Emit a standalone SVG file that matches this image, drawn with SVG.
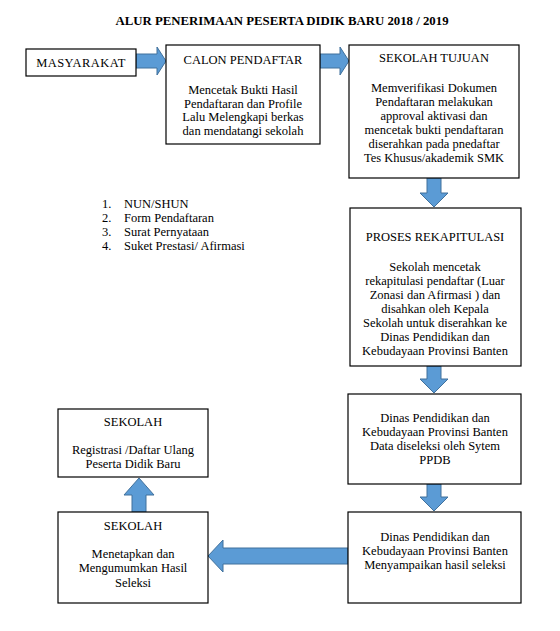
<svg xmlns="http://www.w3.org/2000/svg" width="560" height="631" viewBox="0 0 560 631">
<style>
text{font-family:"Liberation Serif","Times New Roman",serif;font-size:12.5px;fill:#000}
.c{text-anchor:middle}
.t{font-weight:bold;font-size:12.8px}
.box{fill:#fff;stroke:#000;stroke-width:1.2}
.arr{fill:#5b9bd5;stroke:#41719c;stroke-width:1}
</style>
<rect width="560" height="631" fill="#fff"/>
<text class="c t" x="282" y="25">ALUR PENERIMAAN PESERTA DIDIK BARU 2018 / 2019</text>

<g id="connectors">
<path class="arr" d="M136,54 H157 V47 L166,61 L157,75 V68 H136 Z"/>
<path class="arr" d="M320,54 H340 V47 L349,61 L340,75 V68 H320 Z"/>
<path class="arr" d="M427,178 V193 H420 L434,207 L448,193 H441 V178 Z"/>
<path class="arr" d="M427,366 V379 H420 L434,393 L448,379 H441 V366 Z"/>
<path class="arr" d="M427,484 V497 H420 L434,511 L448,497 H441 V484 Z"/>
<path class="arr" d="M348,548 H223 V540 L208,556 L223,572 V564 H348 Z"/>
<path class="arr" d="M132,512 V495 H124 L139,478 L154,495 H146 V512 Z"/>
</g>

<g id="masyarakat">
<rect class="box" x="26" y="49" width="110" height="27"/>
<text class="c" x="81" y="67" letter-spacing="0.4">MASYARAKAT</text>
</g>

<g id="calon">
<rect class="box" x="166" y="45" width="154" height="99"/>
<text class="c" x="243" y="64">CALON PENDAFTAR</text>
<text class="c" x="243" y="94">Mencetak Bukti Hasil</text>
<text class="c" x="243" y="108">Pendaftaran dan Profile</text>
<text class="c" x="243" y="121">Lalu Melengkapi berkas</text>
<text class="c" x="243" y="135">dan mendatangi sekolah</text>
</g>

<g id="sekolah-tujuan">
<rect class="box" x="349" y="45" width="170" height="133"/>
<text class="c" x="434" y="62">SEKOLAH TUJUAN</text>
<text class="c" x="434" y="92">Memverifikasi Dokumen</text>
<text class="c" x="434" y="106">Pendaftaran melakukan</text>
<text class="c" x="434" y="120">approval aktivasi dan</text>
<text class="c" x="434" y="134">mencetak bukti pendaftaran</text>
<text class="c" x="434" y="148">diserahkan pada pnedaftar</text>
<text class="c" x="434" y="162">Tes Khusus/akademik SMK</text>
</g>

<g id="list">
<text x="102" y="208">1.</text><text x="124" y="208">NUN/SHUN</text>
<text x="102" y="222">2.</text><text x="124" y="222">Form Pendaftaran</text>
<text x="102" y="236">3.</text><text x="124" y="236">Surat Pernyataan</text>
<text x="102" y="250">4.</text><text x="124" y="250">Suket Prestasi/ Afirmasi</text>
</g>

<g id="proses">
<rect class="box" x="350" y="208" width="171" height="158"/>
<text class="c" x="435" y="241">PROSES REKAPITULASI</text>
<text class="c" x="435" y="271">Sekolah mencetak</text>
<text class="c" x="435" y="285">rekapitulasi pendaftar (Luar</text>
<text class="c" x="435" y="299">Zonasi dan Afirmasi ) dan</text>
<text class="c" x="435" y="313">disahkan oleh Kepala</text>
<text class="c" x="435" y="327">Sekolah untuk diserahkan ke</text>
<text class="c" x="435" y="341">Dinas Pendidikan dan</text>
<text class="c" x="435" y="355">Kebudayaan Provinsi Banten</text>
</g>

<g id="dinas-1">
<rect class="box" x="348" y="394" width="173" height="90"/>
<text class="c" x="435" y="422">Dinas Pendidikan dan</text>
<text class="c" x="435" y="436">Kebudayaan Provinsi Banten</text>
<text class="c" x="435" y="450">Data diseleksi oleh Sytem</text>
<text class="c" x="435" y="464">PPDB</text>
</g>

<g id="dinas-2">
<rect class="box" x="348" y="512" width="173" height="91"/>
<text class="c" x="435" y="541">Dinas Pendidikan dan</text>
<text class="c" x="435" y="555">Kebudayaan Provinsi Banten</text>
<text class="c" x="435" y="569">Menyampaikan hasil seleksi</text>
</g>

<g id="sekolah-registrasi">
<rect class="box" x="58" y="409" width="150" height="68"/>
<text class="c" x="133" y="426">SEKOLAH</text>
<text class="c" x="133" y="454">Registrasi /Daftar Ulang</text>
<text class="c" x="133" y="468">Peserta Didik Baru</text>
</g>

<g id="sekolah-hasil">
<rect class="box" x="58" y="512" width="150" height="91"/>
<text class="c" x="133" y="530">SEKOLAH</text>
<text class="c" x="133" y="558">Menetapkan dan</text>
<text class="c" x="133" y="572">Mengumumkan Hasil</text>
<text class="c" x="133" y="587">Seleksi</text>
</g>
</svg>
